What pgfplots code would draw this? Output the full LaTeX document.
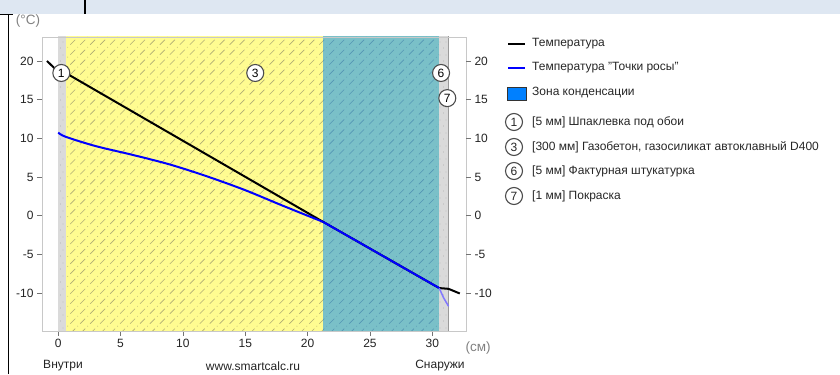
\documentclass[border=0pt]{standalone}
\usepackage{pgfplots}
\pgfplotsset{compat=1.18}
\usepackage{fontspec}
\setmainfont{Liberation Sans}
\usetikzlibrary{patterns}

\pgfdeclarepatternformonly{gb}{\pgfqpoint{-1pt}{-1pt}}{\pgfqpoint{11pt}{11pt}}{\pgfqpoint{10pt}{10pt}}{%
  \pgfsetlinewidth{0.6pt}%
  \pgfpathmoveto{\pgfqpoint{0.5pt}{0.5pt}}\pgfpathlineto{\pgfqpoint{5.5pt}{5.5pt}}\pgfusepathqstroke
  \pgfpathcircle{\pgfqpoint{8pt}{8pt}}{0.45pt}\pgfusepathqfill}
\pgfdeclarepatternformonly{specks}{\pgfqpoint{0pt}{0pt}}{\pgfqpoint{6pt}{13pt}}{\pgfqpoint{6pt}{13pt}}{%
  \pgfpathcircle{\pgfqpoint{1.5pt}{2pt}}{0.4pt}\pgfusepathqfill
  \pgfpathcircle{\pgfqpoint{4pt}{8pt}}{0.4pt}\pgfusepathqfill}

\definecolor{ylw}{RGB}{255,252,145}
\definecolor{tealc}{RGB}{122,192,200}
\definecolor{lgray}{RGB}{218,218,218}
\definecolor{hatchY}{RGB}{175,172,115}
\definecolor{hatchT}{RGB}{85,150,180}
\definecolor{axgray}{RGB}{200,200,200}
\definecolor{tickc}{RGB}{35,35,35}
\definecolor{topblue}{RGB}{222,231,242}
\definecolor{condblue}{RGB}{0,128,255}
\definecolor{dewlight}{RGB}{130,120,255}

\newcommand{\fs}{\fontsize{12bp}{14bp}\selectfont}

\begin{document}
\begin{tikzpicture}[x=1bp,y=1bp,
  circ/.style={circle, draw=black!70, fill=white, line width=1.1pt, inner sep=0pt, minimum size=17bp, font=\fs}]
\useasboundingbox (0,0) rectangle (840,374);
\fill[topblue] (0,360) rectangle (840,374);
\draw[black, line width=1.5bp] (85,360) -- (85,374);
\draw[black, line width=1.5bp] (8.5,0) -- (8.5,360);
\draw[black, line width=1.5bp] (0,359.5) -- (13,359.5);

\begin{axis}[at={(42bp,43bp)}, anchor=south west, scale only axis,
  width=424bp, height=294bp,
  xmin=-1.3, xmax=32.7, ymin=-14.9, ymax=23.1,
  axis line style={draw=axgray},
  xtick={0,5,...,30}, ytick={-10,-5,...,20},
  tick align=outside, major tick length=5bp,
  tick style={draw=black!55, line width=0.8pt},
  xtick pos=bottom, ytick pos=left,
  ticklabel style={font=\fs, text=tickc},
  /pgf/number format/assume math mode=true,
  axis on top]
% layers
\addplot[draw=none, fill=lgray] coordinates {(0,-16) (0.6,-16) (0.6,24) (0,24)} -- cycle;
\addplot[draw=none, pattern=specks, pattern color=black!40] coordinates {(0,-16) (0.6,-16) (0.6,24) (0,24)} -- cycle;
\addplot[draw=none, fill=ylw] coordinates {(0.6,-16) (21.25,-16) (21.25,24) (0.6,24)} -- cycle;
\addplot[draw=none, pattern=gb, pattern color=hatchY] coordinates {(0.6,-16) (21.25,-16) (21.25,24) (0.6,24)} -- cycle;
\addplot[draw=none, fill=tealc] coordinates {(21.25,-16) (30.55,-16) (30.55,24) (21.25,24)} -- cycle;
\addplot[draw=none, pattern=gb, pattern color=hatchT] coordinates {(21.25,-16) (30.55,-16) (30.55,24) (21.25,24)} -- cycle;
\addplot[draw=none, fill=lgray] coordinates {(30.55,-16) (31.3,-16) (31.3,24) (30.55,24)} -- cycle;
\addplot[draw=none, pattern=specks, pattern color=black!40] coordinates {(30.55,-16) (31.3,-16) (31.3,24) (30.55,24)} -- cycle;
\addplot[draw=black!40, line width=0.8pt] coordinates {(31.3,-16) (31.3,24)};
% temperature
\addplot[black, line width=2bp] coordinates {(-0.9,20.0) (0,18.6) (0.6,18.45) (21.25,-0.8) (30.55,-9.35) (31.3,-9.45) (32.2,-10.05)};
% dew point
\addplot[blue, line width=2bp, smooth, tension=0.5] coordinates {(0,10.75) (0.6,10.2) (3,9.0) (6,7.85) (9,6.6) (12,5.05) (15,3.3) (18,1.3) (21.25,-0.8)};
\addplot[blue, line width=2bp] coordinates {(21.25,-0.8) (30.55,-9.35)};
\addplot[dewlight, line width=1.5bp] coordinates {(30.55,-9.35) (30.9,-10.6) (31.3,-11.7)};
% layer numbers
\node[circ] at (axis cs:0.25,18.45) {1};
\node[circ] at (axis cs:15.8,18.45) {3};
\node[circ] at (axis cs:30.7,18.45) {6};
\node[circ] at (axis cs:31.2,15.2) {7};
\end{axis}

\begin{axis}[at={(42bp,43bp)}, anchor=south west, scale only axis,
  width=424bp, height=294bp,
  xmin=-1.3, xmax=32.7, ymin=-14.9, ymax=23.1,
  axis line style={draw=none},
  xtick=\empty, ytick={-10,-5,...,20},
  ytick pos=right, yticklabel pos=right,
  tick align=outside, major tick length=5bp,
  tick style={draw=black!55, line width=0.8pt},
  ticklabel style={font=\fs, text=tickc},
  /pgf/number format/assume math mode=true]
\end{axis}

% axis annotations
\node[text=black!50, font=\fontsize{13.5bp}{15bp}\selectfont] at (28,353) {(°C)};
\node[text=black!50, font=\fontsize{13.5bp}{15bp}\selectfont, anchor=west] at (462,26) {(см)};
\node[text=tickc, font=\fs] at (63,8) {Внутри};
\node[text=tickc, font=\fs] at (253,8) {www.smartcalc.ru};
\node[text=tickc, font=\fs] at (440,8) {Снаружи};

% legend
\begin{scope}[every node/.style={anchor=west, inner sep=0pt, text=black!85, font=\fs}]
\draw[black, line width=2bp] (508,330) -- (525,330);
\node at (532,330) {Температура};
\draw[blue, line width=2bp] (508,306) -- (525,306);
\node at (532,306) {Температура "Точки росы"};
\draw[fill=condblue, draw=black!80, line width=0.8bp] (507,274) rectangle (526,287);
\node at (532,281) {Зона конденсации};
\node[circ, anchor=center] at (514,252) {1};
\node at (532,252) {[5 мм] Шпаклевка под обои};
\node[circ, anchor=center] at (514,227) {3};
\node at (532,227) {[300 мм] Газобетон, газосиликат автоклавный D400};
\node[circ, anchor=center] at (514,203) {6};
\node at (532,203) {[5 мм] Фактурная штукатурка};
\node[circ, anchor=center] at (514,178) {7};
\node at (532,178) {[1 мм] Покраска};
\end{scope}
\end{tikzpicture}
\end{document}
